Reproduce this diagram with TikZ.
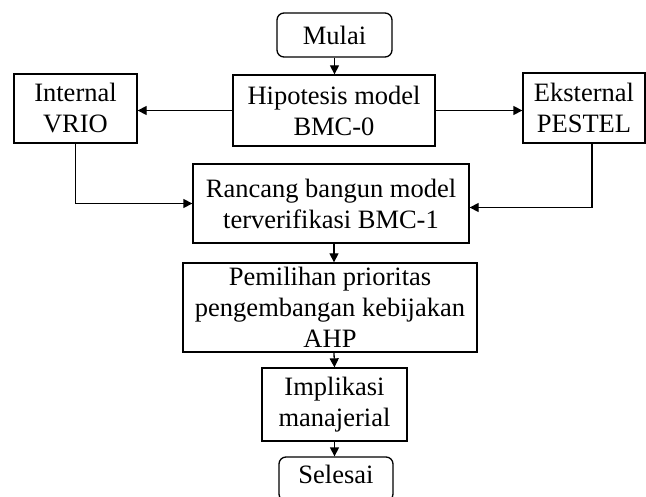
\documentclass[tikz,border=0pt]{standalone}
\usepackage{fontspec}
\setmainfont{Liberation Serif}
\usetikzlibrary{arrows.meta}
\begin{document}
\begin{tikzpicture}[x=1pt,y=-1pt,
  box/.style={draw, line width=1.3pt, inner sep=0pt, align=center, font=\fontsize{26.5}{31}\selectfont},
  term/.style={box, rounded corners=7pt},
  arr/.style={line width=1.3pt, -{Triangle[length=9pt,width=9pt]}},
  ln/.style={line width=1.3pt}]
\useasboundingbox (0,0) rectangle (646,497);
\clip (0,0) rectangle (646,497);
\fill[white] (0,0) rectangle (646,497);
\node[term, minimum width=115pt, minimum height=44pt] (mulai) at (334.5,35) {Mulai};
\node[box, minimum width=202pt, minimum height=71pt] (hipo) at (334,110.5) {Hipotesis model\\BMC-0};
\node[box, minimum width=123pt, minimum height=69pt] (int) at (75.5,108.5) {Internal\\VRIO};
\node[box, minimum width=122pt, minimum height=70pt] (eks) at (584,108) {Eksternal\\PESTEL};
\node[box, minimum width=276pt, minimum height=79pt] (ran) at (331,203.5) {Rancang bangun model\\terverifikasi BMC-1};
\node[box, minimum width=294pt, minimum height=89pt] (pem) at (330,307.5) {Pemilihan prioritas\\pengembangan kebijakan\\AHP};
\node[box, minimum width=145pt, minimum height=73pt] (imp) at (334.5,404.5) {Implikasi\\manajerial};
\node[term, minimum width=114pt, minimum height=44pt, text depth=0pt] (sel) at (336,479) {\raisebox{9pt}{Selesai}};
\draw[arr] (mulai.south) -- (mulai.south |- hipo.north);
\draw[arr] (hipo.west) -- (int.east |- hipo.west);
\draw[arr] (hipo.east) -- (eks.west |- hipo.east);
\draw[arr] (int.south) |- (ran.west);
\draw[arr] ([xshift=8pt]eks.south) |- ([yshift=-4pt]ran.east);
\draw[arr] ([xshift=3pt]ran.south) -- ([xshift=4pt]pem.north);
\draw[arr] ([xshift=4pt]pem.south) -- (imp.north);
\draw[arr] (imp.south) -- (imp.south |- sel.north);
\end{tikzpicture}
\end{document}
